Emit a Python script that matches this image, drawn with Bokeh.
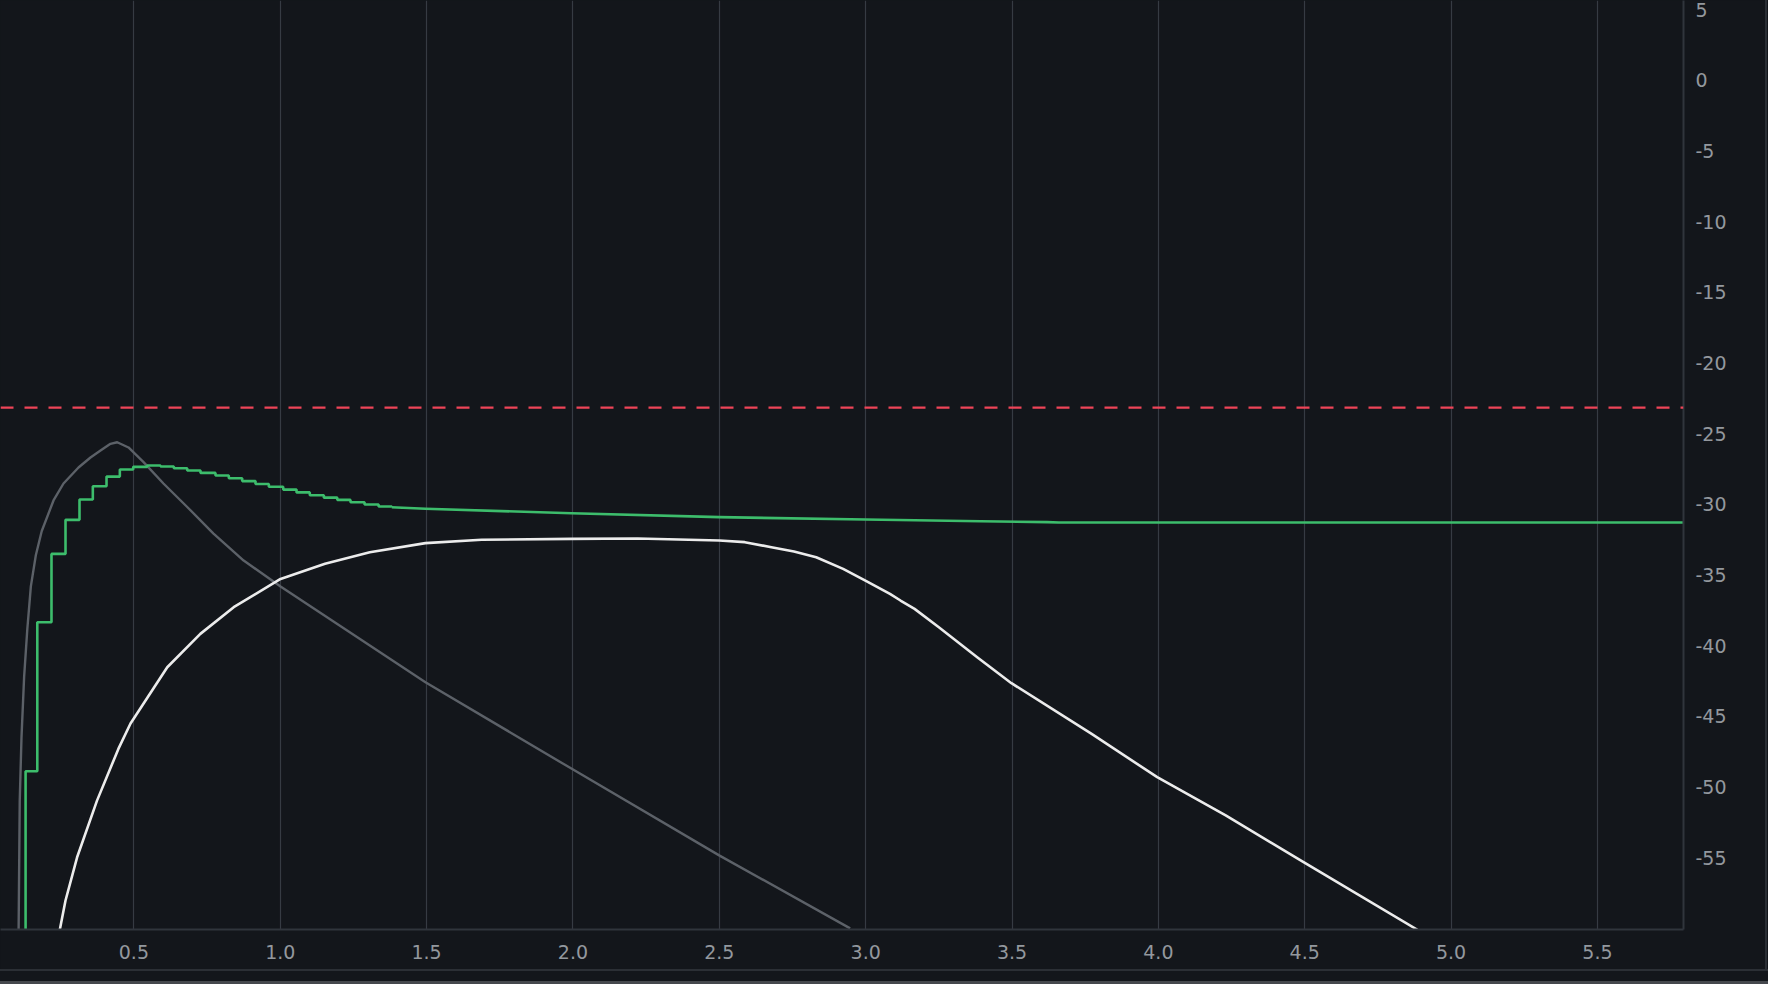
from bokeh.plotting import figure
from bokeh.models import Range1d, FixedTicker, Span
from bokeh.embed import file_html
from bokeh.resources import INLINE

# ---------------- data ----------------
x_ticks = [0.5, 1.0, 1.5, 2.0, 2.5, 3.0, 3.5, 4.0, 4.5, 5.0, 5.5]
x_tick_labels = ["0.5", "1.0", "1.5", "2.0", "2.5", "3.0", "3.5", "4.0", "4.5", "5.0", "5.5"]
y_ticks = [5, 0, -5, -10, -15, -20, -25, -30, -35, -40, -45, -50, -55]
y_tick_labels = ["5", "0", "-5", "-10", "-15", "-20", "-25", "-30", "-35", "-40", "-45", "-50", "-55"]

x_start, x_end = 0.0443, 5.794
y_start, y_end = -60.08, 5.66

threshold = -23.15

# green: stepped part, then smooth tail
green_step_x = [0.085, 0.130, 0.170, 0.2185, 0.2664, 0.3142, 0.3597, 0.4065, 0.452, 0.4977,
                0.5455, 0.591, 0.6364, 0.6822, 0.7276, 0.7788, 0.8243, 0.870, 0.9155, 0.961,
                1.0101, 1.0556, 1.101, 1.149, 1.195, 1.240, 1.288, 1.336, 1.381]
green_step_y = [-80.0, -48.88, -38.34, -33.5, -31.09, -29.65, -28.71, -28.03, -27.53, -27.34,
                -27.25, -27.32, -27.44, -27.6, -27.77, -27.95, -28.15, -28.35, -28.55, -28.75,
                -28.95, -29.15, -29.35, -29.52, -29.68, -29.85, -30.0, -30.15, -30.2]
green_tail_x = [1.381, 1.496, 1.995, 2.50, 2.999, 3.393, 3.62, 3.66, 5.80]
green_tail_y = [-30.2, -30.31, -30.62, -30.9, -31.07, -31.19, -31.25, -31.28, -31.28]

# gray curve
gray_x = [0.106, 0.110, 0.116, 0.125, 0.136, 0.148, 0.165, 0.185, 0.2254, 0.2595,
          0.3108, 0.3518, 0.386, 0.420, 0.443, 0.4816, 0.533, 0.601, 0.683, 0.772,
          0.875, 1.001, 1.496, 1.996, 2.501, 2.947]
gray_y = [-60.5, -51.0, -46.5, -42.2, -38.8, -35.8, -33.6, -31.9, -29.72, -28.52,
          -27.39, -26.68, -26.19, -25.71, -25.6, -25.97, -27.01, -28.52, -30.2, -32.06,
          -33.97, -35.81, -42.58, -48.71, -54.85, -60.0]

# white curve
white_x = [0.245, 0.2664, 0.306, 0.374, 0.447, 0.4885, 0.614, 0.727, 0.841, 1.001,
           1.153, 1.306, 1.496, 1.688, 1.995, 2.221, 2.50, 2.587, 2.678, 2.755,
           2.831, 2.923, 2.999, 3.083, 3.119, 3.167, 3.25, 3.381, 3.498, 3.772,
           3.996, 4.23, 4.496, 4.885]
white_y = [-60.3, -58.03, -54.97, -50.96, -47.3, -45.5, -41.52, -39.16, -37.27, -35.27,
           -34.2, -33.38, -32.74, -32.5, -32.44, -32.41, -32.55, -32.67, -33.03, -33.33,
           -33.74, -34.56, -35.39, -36.33, -36.8, -37.39, -38.69, -40.81, -42.65, -46.24,
           -49.3, -52.0, -55.32, -60.1]

# ---------------- styling ----------------
BG = "#13161b"
GRID = "#363b43"
FRAME = "#30353c"
LABEL = "#93989e"
FONT = "DejaVu Sans"
FONT_SIZE = "19px"

p = figure(frame_width=1683, frame_height=929,
           x_range=Range1d(x_start, x_end), y_range=Range1d(y_start, y_end),
           output_backend="svg", toolbar_location=None,
           x_axis_location="below", y_axis_location="right",
           min_border_left=0, min_border_top=0, min_border_right=82, min_border_bottom=40)

p.background_fill_color = BG
p.border_fill_color = BG
p.outline_line_color = None

p.xgrid.ticker = FixedTicker(ticks=x_ticks)
p.xgrid.grid_line_color = GRID
p.xgrid.grid_line_width = 1.2
p.ygrid.grid_line_color = None

xa = p.xaxis[0]
xa.ticker = FixedTicker(ticks=x_ticks)
xa.major_label_overrides = dict(zip(x_ticks, x_tick_labels))
ya = p.yaxis[0]
ya.ticker = FixedTicker(ticks=y_ticks)
ya.major_label_overrides = dict(zip(y_ticks, y_tick_labels))

for ax in (xa, ya):
    ax.axis_line_color = FRAME
    ax.axis_line_width = 2
    ax.major_tick_line_color = None
    ax.minor_tick_line_color = None
    ax.major_tick_out = 0
    ax.major_tick_in = 0
    ax.minor_tick_out = 0
    ax.major_label_text_color = LABEL
    ax.major_label_text_font = FONT
    ax.major_label_text_font_size = FONT_SIZE
xa.major_label_standoff = 15
ya.major_label_standoff = 12

p.add_layout(Span(location=threshold, dimension="width", line_color="#ee4458",
                  line_width=2.2, line_dash="13 11"))

p.line(gray_x, gray_y, line_color="#5c6168", line_width=2.4, line_join="round")
p.line(white_x, white_y, line_color="#ececec", line_width=2.6, line_join="round")
p.step(green_step_x, green_step_y, mode="after", line_color="#3dbd6c", line_width=2.6)
p.line(green_tail_x, green_tail_y, line_color="#3dbd6c", line_width=2.6, line_join="round")

css = ("<style>html,body{background:%s;}"
       "body::before{content:'';position:fixed;left:0;top:969px;width:1768px;height:2px;background:#2b2f35;z-index:5;}"
       "body::after{content:'';position:fixed;left:0;top:981px;width:1768px;height:3px;background:#45484d;z-index:5;}"
       "html::after{content:'';position:fixed;left:1765px;top:0;width:2px;height:970px;background:#2b2f35;z-index:5;}"
       "</style></head>") % BG

open("out.html", "w").write(file_html(p, INLINE, title="chart").replace("</head>", css, 1))
